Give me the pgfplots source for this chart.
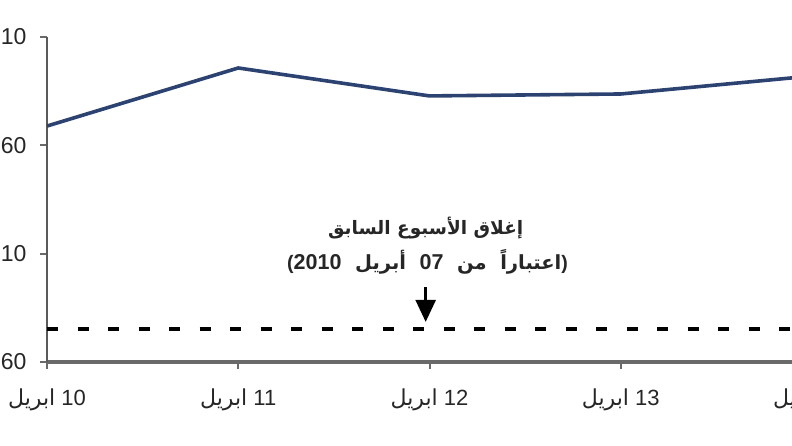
\documentclass[border=0pt]{standalone}
\usepackage{pgfplots}
\pgfplotsset{compat=1.18}
\usepackage{fontspec}
\setmainfont{Liberation Sans}
\newfontfamily\arfont[Script=Arabic]{DejaVu Sans}
\TeXXeTstate=1
\usetikzlibrary{arrows.meta}
\definecolor{navy}{HTML}{2C4372}
\definecolor{axgray}{HTML}{6A6A6A}
\newcommand\xl[1]{\beginR\beginL #1\endL\ {\arfont ابريل}\endR}
\begin{document}
\begin{tikzpicture}
\begin{axis}[name=ax, scale only axis, width=765pt, height=325pt,
  xmin=10, xmax=14, ymin=6760, ymax=6910,
  axis x line=bottom, axis y line=left,
  axis line style={-},
  x axis line style={draw=axgray, line width=3.5pt},
  y axis line style={draw=axgray!85!black, line width=2.8pt},
  xtick={10,11,12,13,14},
  xticklabels={\xl{10},\xl{11},\xl{12},\xl{13},\xl{14}},
  ytick={6760,6810,6860,6910},
  yticklabels={60,10,60,10},
  tick align=outside,
  major tick length=7pt,
  tick style={draw=axgray, line width=2pt},
  ticklabel style={text=black!85},
  yticklabel style={font=\fontsize{23}{25}\selectfont, xshift=-10pt},
  xticklabel style={font=\fontsize{22}{25}\selectfont, yshift=-16pt},
]
\addplot[black, line width=4pt, dash pattern=on 11pt off 19.5pt] coordinates {(10,6775.2) (14,6775.2)};
\addplot[navy, line width=3.6pt, line join=round] coordinates {(10,6868.9) (11,6895.7) (12,6882.8) (13,6883.7) (14,6892)};
\draw[black, line width=2.5pt, -{Triangle[width=20pt,length=22pt]}] (axis cs:11.98,6794.5) -- (axis cs:11.98,6778.5);
\node[font=\arfont\bfseries\fontsize{18.5}{20}\selectfont, text=black!85] at (axis cs:11.98,6822) {\beginR إغلاق الأسبوع السابق\endR};
\node[font=\arfont\bfseries\fontsize{19.5}{22}\selectfont, text=black!85] at (axis cs:11.99,6806.2) {\beginR{\rmfamily )}اعتباراً\ \ من\ \ {\rmfamily\fontsize{21.5}{22}\selectfont\beginL 07\endL}\ \ أبريل\ \ {\rmfamily\fontsize{21.5}{22}\selectfont\beginL 2010\endL}{\rmfamily (}\endR};
\end{axis}
\pgfresetboundingbox
\path[use as bounding box] ([shift={(-47pt,-84pt)}]ax.south west) rectangle ([shift={(745pt,37pt)}]ax.north west);
\end{tikzpicture}
\end{document}
